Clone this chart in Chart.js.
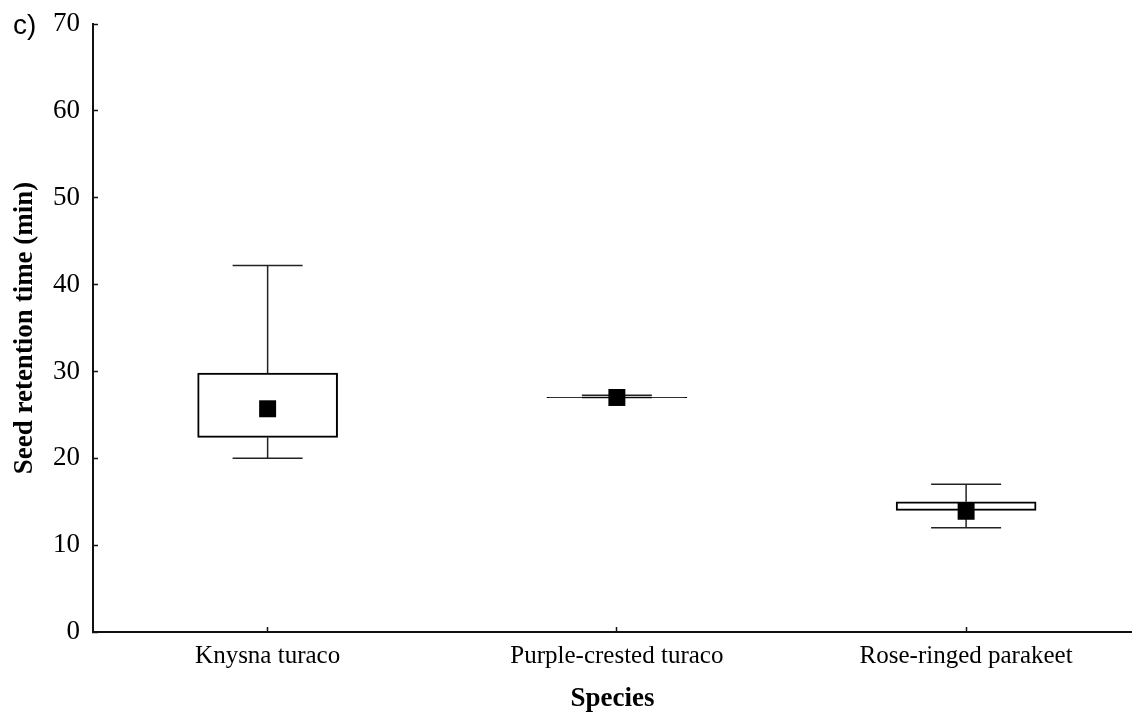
<!DOCTYPE html>
<html>
<head>
<meta charset="utf-8">
<script src="https://cdn.jsdelivr.net/npm/chart.js@4/dist/chart.umd.min.js"></script>
<style>
  html, body { margin: 0; padding: 0; background: #fff; }
  #wrap { width: 1132px; height: 720px; }
</style>
</head>
<body>
<div id="wrap"><canvas id="chart" width="1132" height="720"></canvas></div>
<script>
// species along the x axis and their positions on the linear scale
const species = ['Knysna turaco', 'Purple-crested turaco', 'Rose-ringed parakeet'];
const xPos = [1, 2, 3];

// box-whisker values (min)
const whiskerLow = [20.0, 27.0, 12.0];
const boxLow = [22.4, 26.98, 14.0];
const boxHigh = [29.8, 27.03, 15.0];
const whiskerHigh = [42.2, 27.25, 17.0];
const centre = [25.7, 27.0, 13.9];

const yMin = 0, yMax = 70, yStep = 10;

// whiskers + caps, drawn under the boxes
const whiskerPlugin = {
    id: 'whiskers',
    beforeDatasetsDraw(chart) {
        const ctx = chart.ctx;
        const xs = chart.scales.x, ys = chart.scales.y;
        ctx.save();
        ctx.strokeStyle = '#222';
        ctx.lineWidth = 1.5;
        xPos.forEach((v, i) => {
            const px = xs.getPixelForValue(v);
            const hi = ys.getPixelForValue(whiskerHigh[i]);
            const lo = ys.getPixelForValue(whiskerLow[i]);
            ctx.beginPath();
            ctx.moveTo(px, hi);
            ctx.lineTo(px, ys.getPixelForValue(boxHigh[i]));
            ctx.moveTo(px, lo);
            ctx.lineTo(px, ys.getPixelForValue(boxLow[i]));
            ctx.moveTo(px - 35, hi);
            ctx.lineTo(px + 35, hi);
            ctx.moveTo(px - 35, lo);
            ctx.lineTo(px + 35, lo);
            ctx.stroke();
        });
        ctx.restore();
    }
};

// panel letter in the top-left corner
const panelLabel = {
    id: 'panelLabel',
    afterDraw(chart) {
        const ctx = chart.ctx;
        ctx.save();
        ctx.fillStyle = '#000';
        ctx.font = '28px "Liberation Sans", Arial, sans-serif';
        ctx.textAlign = 'left';
        ctx.textBaseline = 'alphabetic';
        ctx.fillText('c)', 13, 34);
        ctx.restore();
    }
};

new Chart(document.getElementById('chart'), {
    type: 'bar',
    data: {
        datasets: [
            {
                type: 'scatter',
                data: xPos.map((x, i) => ({ x: x, y: centre[i] })),
                pointStyle: 'rect',
                radius: 12,
                backgroundColor: '#000',
                borderWidth: 0,
                order: 0
            },
            {
                type: 'bar',
                data: xPos.map((x, i) => ({ x: x, y: [boxLow[i], boxHigh[i]] })),
                // the collapsed middle box is a solid bar
                backgroundColor: ['#fff', '#000', '#fff'],
                borderColor: '#000',
                borderWidth: 2,
                borderSkipped: false,
                barThickness: 140,
                grouped: false,
                order: 1
            }
        ]
    },
    options: {
        responsive: false,
        animation: false,
        layout: { autoPadding: false, padding: { top: 24, right: 0, bottom: 0, left: 0 } },
        plugins: { legend: { display: false }, tooltip: { enabled: false } },
        scales: {
            x: {
                type: 'linear',
                offset: false,
                min: 0.5,
                max: 3.475,
                afterBuildTicks: s => { s.ticks = xPos.map(v => ({ value: v })); },
                afterFit: s => { s.height = 88; s.paddingLeft = 0; s.paddingRight = 0; },
                border: { color: '#111', width: 2 },
                grid: { offset: false, drawOnChartArea: false, tickLength: -5, color: '#111', tickWidth: 1.5 },
                ticks: {
                    color: '#000',
                    padding: 14,
                    maxRotation: 0,
                    font: { family: '"Liberation Serif", "Times New Roman", serif', size: 25 },
                    callback: v => species[xPos.indexOf(v)]
                },
                title: {
                    display: true,
                    text: 'Species',
                    color: '#000',
                    padding: { top: 0, bottom: 5 },
                    font: { family: '"Liberation Serif", "Times New Roman", serif', size: 27, weight: 'bold' }
                }
            },
            y: {
                min: yMin,
                max: yMax,
                afterFit: s => { s.width = 93; s.paddingTop = 0; s.paddingBottom = 0; },
                border: { color: '#111', width: 2 },
                grid: { drawOnChartArea: false, tickLength: -5, color: '#111', tickWidth: 1.5 },
                ticks: {
                    stepSize: yStep,
                    color: '#000',
                    padding: 18,
                    font: { family: '"Liberation Serif", "Times New Roman", serif', size: 27 }
                },
                title: {
                    display: true,
                    text: 'Seed retention time (min)',
                    color: '#000',
                    padding: { top: 9, bottom: 0 },
                    font: { family: '"Liberation Serif", "Times New Roman", serif', size: 27, weight: 'bold' }
                }
            }
        }
    },
    plugins: [whiskerPlugin, panelLabel]
});
</script>
</body>
</html>
